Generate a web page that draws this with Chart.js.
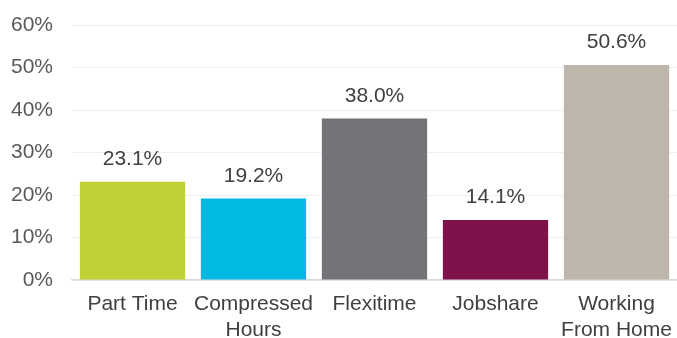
<!DOCTYPE html>
<html>
<head>
<meta charset="utf-8">
<script src="https://cdn.jsdelivr.net/npm/chart.js@4/dist/chart.umd.min.js"></script>
<style>
  html, body { margin: 0; padding: 0; background: #ffffff; }
  #wrap { width: 677px; height: 338px; position: relative; }
</style>
</head>
<body>
<div id="wrap"><canvas id="chart"></canvas></div>
<script>
// Flexible working arrangements: share of respondents (%)
const categories = [["Part Time"], ["Compressed", "Hours"], ["Flexitime"], ["Jobshare"], ["Working", "From Home"]];
const shares = [23.1, 19.2, 38.0, 14.1, 50.6];
const barColors = ["#c1d135", "#02b9e3", "#747378", "#7e124b", "#beb5ab"];
const yTicks = [0, 10, 20, 30, 40, 50, 60];

const FONT = "'Liberation Sans', Arial, sans-serif";

// Writes the value above each bar
const valueLabels = {
  id: "valueLabels",
  afterDatasetsDraw(chart) {
    const { ctx } = chart;
    const meta = chart.getDatasetMeta(0);
    ctx.save();
    ctx.font = "21px " + FONT;
    ctx.fillStyle = "#404040";
    ctx.textAlign = "center";
    ctx.textBaseline = "bottom";
    meta.data.forEach((bar, i) => {
      ctx.fillText(shares[i].toFixed(1) + "%", bar.x, bar.y - 12);
    });
    ctx.restore();
  }
};

new Chart(document.getElementById("chart"), {
  type: "bar",
  data: {
    labels: categories,
    datasets: [{
      data: shares,
      backgroundColor: barColors,
      borderWidth: 0,
      categoryPercentage: 1.0,
      barPercentage: 0.87
    }]
  },
  options: {
    responsive: true,
    maintainAspectRatio: false,
    animation: false,
    layout: { padding: { top: 25, right: 0, bottom: 0, left: 0 } },
    plugins: {
      legend: { display: false },
      tooltip: { enabled: false }
    },
    scales: {
      x: {
        grid: { display: false, drawTicks: false },
        border: { display: true, color: "#d9d9d9", width: 1.5 },
        ticks: {
          color: "#404040",
          font: { family: FONT, size: 21, lineHeight: 1.2 },
          padding: 12,
          maxRotation: 0,
          autoSkip: false
        },
        afterFit(scale) {
          scale.height = 58;
          scale.paddingLeft = 0;
          scale.paddingRight = 0;
        }
      },
      y: {
        min: 0,
        max: 60,
        afterBuildTicks(scale) { scale.ticks = yTicks.map(v => ({ value: v })); },
        grid: { color: "#efefef", lineWidth: 1, drawTicks: false },
        border: { display: false },
        ticks: {
          color: "#595959",
          font: { family: FONT, size: 21 },
          padding: 19,
          callback: v => v + "%"
        },
        afterFit(scale) {
          scale.width = 72;
          scale.paddingTop = 0;
          scale.paddingBottom = 0;
        }
      }
    }
  },
  plugins: [valueLabels]
});
</script>
</body>
</html>
